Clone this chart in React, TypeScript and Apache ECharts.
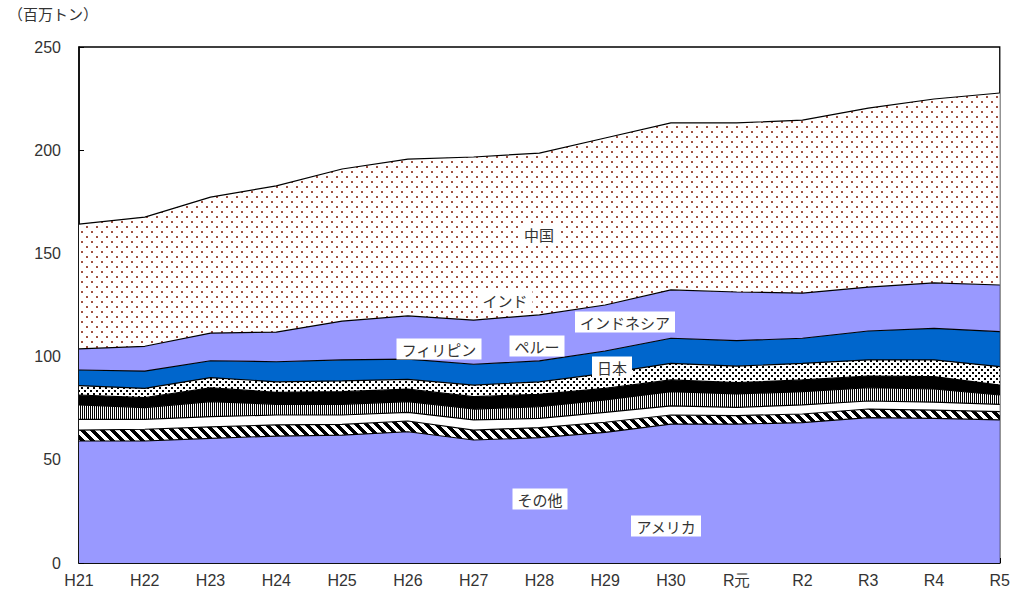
import React, { useEffect, useRef } from 'react';
import * as echarts from 'echarts';

const years = ['H21', 'H22', 'H23', 'H24', 'H25', 'H26', 'H27', 'H28', 'H29', 'H30', 'R元', 'R2', 'R3', 'R4', 'R5'];

// values in million tons, bottom layer first
const sonota = [59.1, 59.1, 60.4, 61.5, 62.0, 63.6, 59.6, 60.7, 63.3, 67.3, 67.3, 68.0, 70.4, 70.1, 69.3];
const america = [5.3, 5.7, 5.6, 5.4, 5.2, 5.2, 4.8, 4.9, 4.9, 4.4, 4.1, 4.2, 4.2, 4.0, 4.0];
const nihon = [5.2, 4.8, 4.9, 4.8, 4.5, 4.2, 4.9, 4.5, 4.8, 4.4, 4.0, 4.4, 3.9, 3.8, 3.6];
const peru = [7.0, 5.7, 7.3, 5.2, 5.2, 5.2, 5.3, 5.6, 6.0, 6.9, 6.5, 6.4, 6.4, 6.4, 4.5];
const philippines = [4.8, 4.8, 6.7, 5.8, 6.1, 6.0, 6.0, 6.0, 5.6, 5.7, 5.5, 5.7, 5.7, 6.0, 4.8];
const vietnam = [4.5, 4.5, 4.9, 5.1, 5.2, 4.8, 5.6, 6.1, 7.3, 8.0, 8.0, 8.0, 7.8, 8.1, 8.9];
const india = [7.6, 8.4, 8.2, 9.7, 10.2, 9.8, 10.1, 10.1, 10.8, 12.2, 12.3, 12.2, 14.0, 15.3, 17.0];
const indonesia = [10.2, 12.0, 13.4, 14.4, 18.8, 20.9, 21.4, 22.3, 22.3, 23.4, 23.6, 21.9, 21.3, 22.0, 22.6];
const china = [60.5, 62.6, 65.9, 70.8, 73.7, 76.0, 79.0, 78.4, 80.9, 80.9, 81.9, 83.8, 86.7, 89.1, 93.0];

const unitLabel = '（百万トン）';
const areaLabels = ['中国', 'インド', 'インドネシア', 'フィリピン', 'ペルー', '日本', 'その他', 'アメリカ'];

const FONT = '"Noto Sans CJK JP", "Noto Sans", sans-serif';
const NUMFONT = '"Liberation Sans", Arial, sans-serif';

function makeCanvas(w: number, h: number, draw: (ctx: CanvasRenderingContext2D) => void) {
  const c = document.createElement('canvas');
  c.width = w;
  c.height = h;
  const ctx = c.getContext('2d') as CanvasRenderingContext2D;
  draw(ctx);
  return c;
}

export default function App() {
  const ref = useRef<HTMLDivElement>(null);

  useEffect(() => {
    if (!ref.current) return;
    const chart = echarts.init(ref.current, undefined, { renderer: 'svg' });

    const hatch = makeCanvas(10, 10, (ctx) => {
      ctx.fillStyle = '#fff';
      ctx.fillRect(0, 0, 10, 10);
      ctx.fillStyle = '#000';
      for (let y = 0; y < 10; y++) {
        for (let x = 0; x < 10; x++) {
          if ((((x - y) % 10) + 10) % 10 < 5) ctx.fillRect(x, y, 1, 1);
        }
      }
    });
    const vstripe = makeCanvas(2, 2, (ctx) => {
      ctx.fillStyle = '#fff';
      ctx.fillRect(0, 0, 2, 2);
      ctx.fillStyle = '#000';
      ctx.fillRect(0, 0, 1, 2);
    });
    const dots = makeCanvas(6, 6, (ctx) => {
      ctx.fillStyle = '#fff';
      ctx.fillRect(0, 0, 6, 6);
      ctx.fillStyle = '#000';
      ctx.fillRect(0, 0, 2, 2);
      ctx.fillRect(3, 3, 2, 2);
    });
    const redDots = makeCanvas(10, 10, (ctx) => {
      ctx.fillStyle = '#fff';
      ctx.fillRect(0, 0, 10, 10);
      ctx.fillStyle = '#a05040';
      ctx.fillRect(1, 1, 2, 2);
      ctx.fillRect(6, 6, 2, 2);
    });

    const pat = (c: HTMLCanvasElement) => ({ image: c, repeat: 'repeat' });

    const layers: { name: string; data: number[]; color: any }[] = [
      { name: 'その他', data: sonota, color: '#9999ff' },
      { name: 'アメリカ', data: america, color: pat(hatch) },
      { name: '日本', data: nihon, color: '#ffffff' },
      { name: 'ペルー', data: peru, color: pat(vstripe) },
      { name: 'フィリピン', data: philippines, color: '#000000' },
      { name: 'ベトナム', data: vietnam, color: pat(dots) },
      { name: 'インド', data: india, color: '#0066cc' },
      { name: 'インドネシア', data: indonesia, color: '#9999ff' },
      { name: '中国', data: china, color: pat(redDots) },
    ];

    const labelPos: [number, number][] = [
      [539, 234],
      [505, 300],
      [625, 322],
      [439, 349],
      [537, 346],
      [612, 367],
      [540, 499],
      [666, 526],
    ];

    chart.setOption({
      animation: false,
      grid: {
        show: true,
        left: 79,
        right: 13,
        top: 47,
        bottom: 30,
        borderColor: '#000',
        borderWidth: 1.3,
        backgroundColor: 'transparent',
      },
      xAxis: {
        type: 'category',
        boundaryGap: false,
        data: years,
        axisLine: { lineStyle: { color: '#000', width: 1.5 } },
        axisTick: { inside: true, length: 5, lineStyle: { color: '#000' } },
        axisLabel: { color: '#333', fontSize: 16, margin: 9, fontFamily: NUMFONT },
        splitLine: { show: false },
      },
      yAxis: {
        type: 'value',
        min: 0,
        max: 250,
        interval: 50,
        axisLine: { show: true, lineStyle: { color: '#000', width: 1.5 } },
        axisTick: { show: true, inside: true, length: 5, lineStyle: { color: '#000' } },
        axisLabel: { color: '#333', fontSize: 16, margin: 18, fontFamily: NUMFONT },
        splitLine: { show: false },
      },
      series: layers.map((l) => ({
        name: l.name,
        type: 'line',
        stack: 'total',
        data: l.data,
        symbol: 'none',
        showSymbol: false,
        lineStyle: { color: '#000', width: 1.2 },
        areaStyle: { color: l.color, opacity: 1 },
        emphasis: { disabled: true },
        silent: true,
      })),
      graphic: [
        {
          type: 'text',
          left: 8,
          top: 6,
          style: { text: unitLabel, fill: '#333', font: `15px ${FONT}` },
        },
        ...areaLabels.map((t, i) => ({
          type: 'text',
          x: labelPos[i][0],
          y: labelPos[i][1],
          z: 100,
          style: {
            text: t,
            fill: '#333',
            font: `15px ${FONT}`,
            align: 'center',
            verticalAlign: 'middle',
            backgroundColor: '#fff',
            padding: [3, 5],
          },
        })),
      ],
    });

    return () => chart.dispose();
  }, []);

  return <div ref={ref} style={{ position: 'absolute', left: 0, top: 0, width: 1013, height: 593 }} />;
}
